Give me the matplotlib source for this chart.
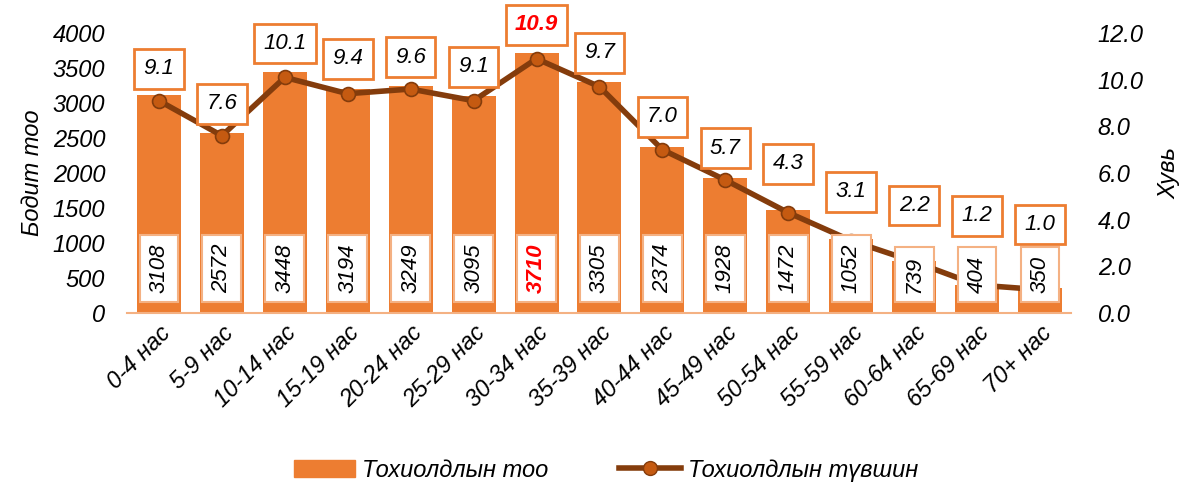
import matplotlib.pyplot as plt
from matplotlib.lines import Line2D
from matplotlib.patches import Patch

plt.rcParams["font.family"] = ["Liberation Sans", "DejaVu Sans"]
plt.rcParams["font.style"] = "italic"

# өгөгдөл
age_groups = ["0-4 нас", "5-9 нас", "10-14 нас", "15-19 нас", "20-24 нас",
              "25-29 нас", "30-34 нас", "35-39 нас", "40-44 нас", "45-49 нас",
              "50-54 нас", "55-59 нас", "60-64 нас", "65-69 нас", "70+ нас"]
cases = [3108, 2572, 3448, 3194, 3249, 3095, 3710, 3305, 2374, 1928,
         1472, 1052, 739, 404, 350]
rate = [9.1, 7.6, 10.1, 9.4, 9.6, 9.1, 10.9, 9.7, 7.0, 5.7,
        4.3, 3.1, 2.2, 1.2, 1.0]
peak = 6  # 30-34 нас, улаанаар тодруулна

# label placement (pixels above the marker)
label_lift = [32, 32, 34, 35, 32, 34, 34, 34, 33, 32, 49, 49, 56, 69, 65]

BAR = "#ED7D31"
LINE = "#843C0C"
MARK = "#C55A11"

fig = plt.figure(figsize=(11.88, 4.86), dpi=100)
ax = fig.add_axes([0.1073, 0.356, 0.7946, 0.576])
ax2 = ax.twinx()

x = range(len(cases))
ax.bar(x, cases, width=0.7, color=BAR, zorder=2)
ax.set_ylim(0, 4000)
ax.set_yticks(range(0, 4001, 500))
ax.set_xlim(-0.5, len(cases) - 0.5)
ax.set_xticks(list(x))
ax.set_xticklabels(age_groups, rotation=45, ha="right", va="top",
                   rotation_mode="anchor", fontsize=17)
ax.tick_params(axis="x", length=0, pad=6)
ax.tick_params(axis="y", length=0, pad=16, labelsize=17)
ax.set_ylabel("Бодит тоо", fontsize=17, labelpad=6)

ax2.plot(x, rate, color=LINE, lw=4, marker="o", ms=10,
         markerfacecolor=MARK, markeredgecolor=LINE, markeredgewidth=1.2, zorder=3)
ax2.set_ylim(0, 12)
ax2.set_yticks(range(0, 13, 2))
ax2.set_yticklabels([f"{v:.1f}" for v in range(0, 13, 2)])
ax2.tick_params(axis="y", length=0, pad=19, labelsize=17)
ax2.set_ylabel("Хувь", fontsize=17, labelpad=10)

for a in (ax, ax2):
    for s in a.spines.values():
        s.set_visible(False)
ax.spines["bottom"].set_visible(True)
ax.spines["bottom"].set_color("#F4B183")
ax.spines["bottom"].set_linewidth(1.5)

for i, (c, r) in enumerate(zip(cases, rate)):
    hot = i == peak
    ax2.annotate(f"{r:.1f}", (i, r), xytext=(0, label_lift[i] * 0.72),
                 textcoords="offset points", ha="center", va="center",
                 fontsize=16, color="red" if hot else "black",
                 fontweight="bold" if hot else "normal",
                 bbox=dict(boxstyle="square,pad=0.42", fc="white", ec=BAR, lw=2),
                 zorder=5)
    # count label sits on a fixed baseline near the bottom of the bar
    ax2.annotate(str(c), (i, 0), xycoords=ax.transData, xytext=(0, 20),
                 textcoords="offset pixels", rotation=90,
                 ha="center", va="bottom", fontsize=16,
                 color="red" if hot else "black",
                 fontweight="bold" if hot else "normal",
                 bbox=dict(boxstyle="square,pad=0.4", fc="white", ec="#F4B183", lw=1.5),
                 zorder=6)

handles = [Patch(color=BAR, label="Тохиолдлын тоо"),
           Line2D([0], [0], color=LINE, lw=4, marker="o", ms=10,
                  markerfacecolor=MARK, markeredgecolor=LINE,
                  label="Тохиолдлын түвшин")]
fig.legend(handles=handles, loc="lower center", bbox_to_anchor=(0.51, -0.035),
           ncol=2, frameon=False, fontsize=17, handlelength=2.6,
           handletextpad=0.3, columnspacing=3)

fig.savefig("out.png", dpi=100)
